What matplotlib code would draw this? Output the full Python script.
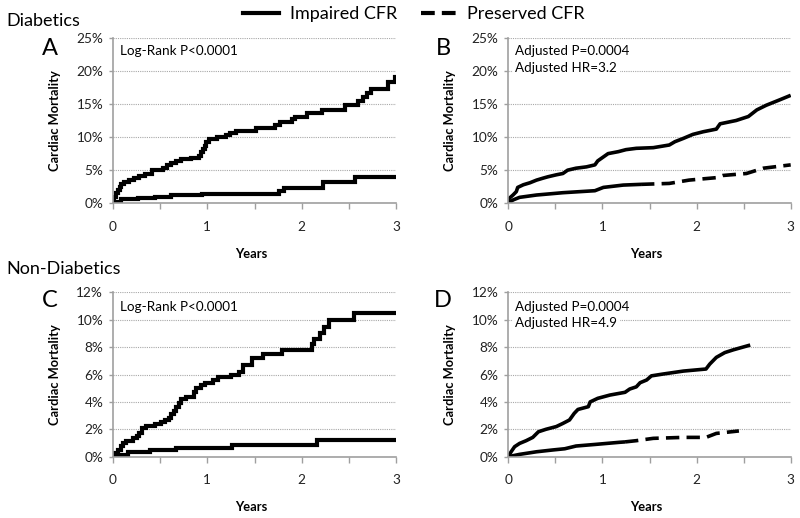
import matplotlib
matplotlib.use("Agg")
import matplotlib.pyplot as plt
from matplotlib.lines import Line2D
from matplotlib.ticker import FuncFormatter, MultipleLocator

plt.rcParams['font.family'] = ['Lato', 'DejaVu Sans']

# ---------------- data ----------------
# Panel A (Diabetics, Kaplan-Meier, step curves)
a_imp_t = [0, 0.01, 0.03, 0.05, 0.07, 0.09, 0.12, 0.17, 0.22, 0.28, 0.34, 0.41, 0.53, 0.57, 0.62,
           0.67, 0.72, 0.83, 0.91, 0.93, 0.95, 0.97, 0.99, 1.02, 1.10, 1.20, 1.24, 1.30, 1.52, 1.72,
           1.77, 1.90, 1.93, 2.06, 2.22, 2.46, 2.60, 2.65, 2.69, 2.74, 2.91, 2.99, 3.0]
a_imp_v = [0, 1.0, 1.5, 2.0, 2.5, 2.9, 3.2, 3.5, 3.8, 4.1, 4.4, 5.0, 5.3, 5.8, 6.1,
           6.4, 6.7, 6.9, 7.2, 7.7, 8.2, 8.7, 9.2, 9.7, 10.0, 10.3, 10.6, 10.9, 11.3, 11.8,
           12.2, 12.7, 13.0, 13.6, 14.1, 14.8, 15.5, 16.0, 16.6, 17.3, 18.3, 19.0, 19.0]
a_pre_t = [0, 0.02, 0.08, 0.27, 0.44, 0.62, 0.94, 1.76, 1.81, 2.23, 2.57, 3.0]
a_pre_v = [0, 0.2, 0.6, 0.8, 1.0, 1.2, 1.45, 1.9, 2.25, 3.25, 4.0, 4.0]

# Panel B (Diabetics, adjusted curves)
b_imp_t = [0, 0.01, 0.05, 0.085, 0.10, 0.16, 0.23, 0.30, 0.37, 0.42, 0.51, 0.58, 0.63, 0.72, 0.83,
           0.92, 0.95, 1.01, 1.06, 1.17, 1.25, 1.36, 1.54, 1.71, 1.77, 1.86, 1.96, 2.07, 2.21, 2.25,
           2.42, 2.55, 2.64, 2.74, 2.88, 3.0]
b_imp_v = [0, 0.75, 1.25, 1.76, 2.4, 2.8, 3.1, 3.5, 3.8, 4.0, 4.3, 4.5, 5.0, 5.3, 5.5,
           5.8, 6.4, 7.0, 7.5, 7.8, 8.1, 8.3, 8.4, 8.8, 9.3, 9.8, 10.4, 10.8, 11.2, 12.0,
           12.5, 13.1, 14.1, 14.8, 15.6, 16.3]
b_pre_t = [0, 0.05, 0.12, 0.30, 0.58, 0.92, 1.01, 1.22, 1.41, 1.71, 1.92, 2.21, 2.28, 2.53, 2.71, 3.0]
b_pre_v = [0, 0.5, 0.9, 1.25, 1.6, 1.9, 2.4, 2.75, 2.86, 3.0, 3.5, 3.87, 4.2, 4.5, 5.3, 5.8]

# Panel C (Non-Diabetics, Kaplan-Meier, step curves)
c_imp_t = [0, 0.02, 0.05, 0.08, 0.11, 0.14, 0.21, 0.25, 0.28, 0.31, 0.35, 0.44, 0.51, 0.55, 0.59,
           0.62, 0.65, 0.67, 0.70, 0.72, 0.77, 0.86, 0.88, 0.93, 0.97, 1.06, 1.11, 1.25, 1.34, 1.38,
           1.47, 1.59, 1.79, 2.11, 2.13, 2.19, 2.24, 2.29, 2.55, 3.0]
c_imp_v = [0, 0.25, 0.5, 0.8, 1.0, 1.15, 1.35, 1.5, 1.75, 2.1, 2.25, 2.4, 2.55, 2.7, 2.85,
           3.1, 3.35, 3.6, 3.9, 4.2, 4.35, 4.7, 5.0, 5.25, 5.4, 5.6, 5.8, 6.0, 6.2, 6.7,
           7.2, 7.5, 7.8, 8.2, 8.6, 9.0, 9.5, 9.95, 10.5, 10.5]
c_pre_t = [0, 0.03, 0.16, 0.39, 0.67, 1.26, 2.16, 3.0]
c_pre_v = [0, 0.1, 0.35, 0.48, 0.62, 0.84, 1.2, 1.2]

# Panel D (Non-Diabetics, adjusted curves)
d_imp_t = [0, 0.03, 0.067, 0.12, 0.19, 0.26, 0.32, 0.40, 0.51, 0.58, 0.65, 0.70, 0.74, 0.85, 0.87,
           0.95, 1.08, 1.24, 1.29, 1.36, 1.40, 1.47, 1.52, 1.64, 1.86, 2.10, 2.14, 2.21, 2.30, 2.39, 2.57]
d_imp_v = [0, 0.36, 0.73, 0.97, 1.17, 1.41, 1.82, 2.0, 2.2, 2.43, 2.68, 3.16, 3.45, 3.65, 4.0,
           4.26, 4.5, 4.7, 4.94, 5.1, 5.4, 5.6, 5.9, 6.03, 6.25, 6.4, 6.76, 7.25, 7.6, 7.8, 8.15]
d_pre_t = [0, 0.12, 0.30, 0.47, 0.60, 0.72, 0.93, 1.18, 1.24, 1.36, 1.54, 1.86, 2.10, 2.21, 2.45]
d_pre_v = [0, 0.17, 0.36, 0.49, 0.58, 0.78, 0.9, 1.05, 1.08, 1.17, 1.34, 1.41, 1.41, 1.7, 1.88]

legend_labels = ["Impaired CFR", "Preserved CFR"]
x_ticks = [0, 1, 2, 3]
ab_yticks = [0, 5, 10, 15, 20, 25]
cd_yticks = [0, 2, 4, 6, 8, 10, 12]

# ---------------- styling ----------------
GRAY = '#9f9f9f'
DASH = (0, (3.7, 2.0))
LW_STEP = 3.0
LW_SMOOTH = 2.6

fig = plt.figure(figsize=(8.0, 5.18), dpi=100)
W, H = 800, 518


def axes_at(x0, y0, x1, y1):
    return fig.add_axes([x0 / W, 1 - y1 / H, (x1 - x0) / W, (y1 - y0) / H])


axA = axes_at(113, 37.7, 396, 203.3)
axB = axes_at(508.3, 37.7, 790.7, 203.3)
axC = axes_at(113, 292.3, 396, 456.7)
axD = axes_at(508.3, 292.3, 790.7, 456.7)


def style(ax, yticks):
    ax.set_xlim(0, 3)
    ax.set_ylim(yticks[0], yticks[-1])
    ax.set_xticks(x_ticks)
    ax.xaxis.set_minor_locator(MultipleLocator(0.5))
    ax.set_yticks(yticks)
    ax.yaxis.set_major_formatter(FuncFormatter(lambda v, p: f"{int(v)}%"))
    for s in ['top', 'right']:
        ax.spines[s].set_visible(False)
    for s in ['left', 'bottom']:
        ax.spines[s].set_color(GRAY)
        ax.spines[s].set_linewidth(1.2)
    ax.tick_params(axis='x', which='both', direction='out', length=4, width=1, color=GRAY,
                   labelsize=9.8, pad=8.5, labelcolor='#222222')
    ax.tick_params(axis='y', which='both', direction='out', length=3, width=1, color=GRAY,
                   labelsize=9.8, pad=4, labelcolor='#222222')
    ax.yaxis.grid(True, linestyle=(0, (1, 1)), color='#a8a8a8', linewidth=0.8)
    ax.set_axisbelow(True)
    ax.set_xlabel("Years", fontsize=9.3, fontweight='bold')
    ax.set_ylabel("Cardiac Mortality", fontsize=9.3, fontweight='bold')
    ax.xaxis.set_label_coords(0.49, -0.27)
    ax.yaxis.set_label_coords(-0.185, 0.5)


for ax, yt in [(axA, ab_yticks), (axB, ab_yticks), (axC, cd_yticks), (axD, cd_yticks)]:
    style(ax, yt)

# step curves
axA.plot(a_imp_t, a_imp_v, drawstyle='steps-post', color='black', lw=LW_STEP, solid_joinstyle='miter')
axA.plot(a_pre_t, a_pre_v, drawstyle='steps-post', color='black', lw=LW_STEP, solid_joinstyle='miter')
axC.plot(c_imp_t, c_imp_v, drawstyle='steps-post', color='black', lw=LW_STEP, solid_joinstyle='miter')
axC.plot(c_pre_t, c_pre_v, drawstyle='steps-post', color='black', lw=LW_STEP, solid_joinstyle='miter')

# adjusted curves
axB.plot(b_imp_t, b_imp_v, color='black', lw=LW_SMOOTH, solid_capstyle='butt')
kB = 8  # index where the preserved line turns visibly dashed
axB.plot(b_pre_t[:kB + 1], b_pre_v[:kB + 1], color='black', lw=LW_SMOOTH, solid_capstyle='butt')
axB.plot(b_pre_t[kB:], b_pre_v[kB:], color='black', lw=LW_SMOOTH, linestyle=DASH)

axD.plot(d_imp_t, d_imp_v, color='black', lw=LW_SMOOTH, solid_capstyle='butt')
kD = 8
axD.plot(d_pre_t[:kD + 1], d_pre_v[:kD + 1], color='black', lw=LW_SMOOTH, solid_capstyle='butt')
axD.plot(d_pre_t[kD:], d_pre_v[kD:], color='black', lw=LW_SMOOTH, linestyle=DASH)

# annotations
axA.text(0.025, 0.896, "Log-Rank P<0.0001", transform=axA.transAxes, fontsize=9.7, va='baseline')
axC.text(0.025, 0.886, "Log-Rank P<0.0001", transform=axC.transAxes, fontsize=9.7, va='baseline')
bbox = dict(facecolor='white', edgecolor='none', pad=2)
axB.text(0.025, 0.896, "Adjusted P=0.0004", transform=axB.transAxes, fontsize=9.7, va='baseline', bbox=bbox)
axB.text(0.025, 0.792, "Adjusted HR=3.2", transform=axB.transAxes, fontsize=9.7, va='baseline', bbox=bbox)
axD.text(0.025, 0.886, "Adjusted P=0.0004", transform=axD.transAxes, fontsize=9.7, va='baseline', bbox=bbox)
axD.text(0.025, 0.788, "Adjusted HR=4.9", transform=axD.transAxes, fontsize=9.7, va='baseline', bbox=bbox)

# panel letters and group titles
fig.text(6 / W, 1 - 26 / H, "Diabetics", fontsize=13, va='baseline', ha='left')
fig.text(6 / W, 1 - 274 / H, "Non-Diabetics", fontsize=13, va='baseline', ha='left')
for lab, x, y in [("A", 49.5, 55), ("B", 443.5, 55), ("C", 49.5, 307), ("D", 443, 307)]:
    fig.text(x / W, 1 - y / H, lab, fontsize=17, va='baseline', ha='center')

# legend
handles = [Line2D([], [], color='black', lw=3.0),
           Line2D([], [], color='black', lw=3.0, linestyle=(0, (3.3, 1.7)))]
fig.legend(handles, legend_labels, loc='center', bbox_to_anchor=(414 / W, 1 - 14 / H), ncol=2,
           frameon=False, fontsize=13, handlelength=2.0, handletextpad=0.6, columnspacing=1.3,
           borderpad=0, borderaxespad=0)

fig.savefig("out.png", dpi=100)
